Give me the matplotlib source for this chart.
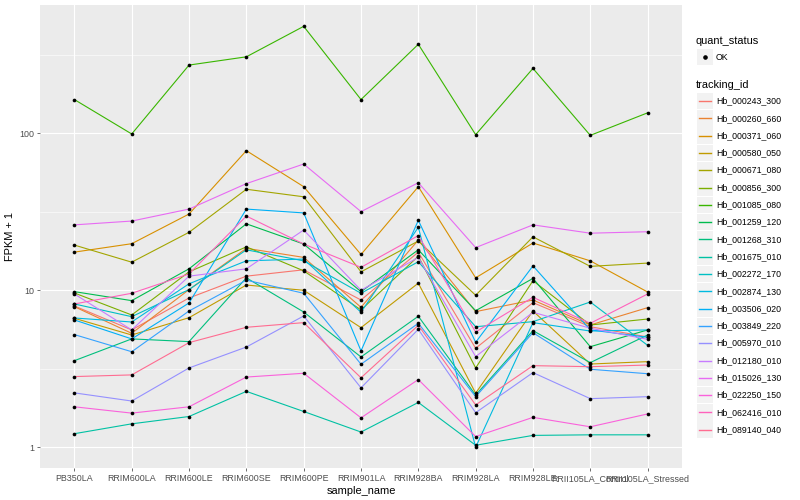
import numpy as np
import matplotlib.pyplot as plt
from matplotlib.patches import Rectangle
from matplotlib.lines import Line2D

plt.rcParams['font.family'] = ['Liberation Sans', 'DejaVu Sans']

# samples on the x axis
samples = ['PB350LA', 'RRIM600LA', 'RRIM600LE', 'RRIM600SE', 'RRIM600PE', 'RRIM901LA',
           'RRIM928BA', 'RRIM928LA', 'RRIM928LE', 'RRII105LA_Control', 'RRII105LA_Stressed']

tracking_ids = ['Hb_000243_300', 'Hb_000260_660', 'Hb_000371_060', 'Hb_000580_050',
                'Hb_000671_080', 'Hb_000856_300', 'Hb_001085_080', 'Hb_001259_120',
                'Hb_001268_310', 'Hb_001675_010', 'Hb_002272_170', 'Hb_002874_130',
                'Hb_003506_020', 'Hb_003849_220', 'Hb_005970_010', 'Hb_012180_010',
                'Hb_015026_130', 'Hb_022250_150', 'Hb_062416_010', 'Hb_089140_040']

# ggplot hue palette for 20 levels
colors = ['#F8766D', '#EA8331', '#D89000', '#C09B00', '#A3A500', '#7CAE00', '#39B600',
          '#00BB4E', '#00BF7D', '#00C1A3', '#00BFC4', '#00BAE0', '#00B0F6', '#35A2FF',
          '#9590FF', '#C77CFF', '#E76BF3', '#FA62DB', '#FF62BC', '#FF6C91']

# FPKM + 1 values, one list per gene
hb_000243_300 = [7.94, 5.59, 8.93, 12.3, 13.5, 8.67, 17.5, 4.27, 8.34, 5.86, 5.04]
hb_000260_660 = [7.86, 5.32, 10.1, 18.5, 16.2, 7.79, 20.9, 7.31, 8.67, 6.01, 7.75]
hb_000371_060 = [17.5, 19.8, 30.6, 77.5, 45.7, 16.9, 45.7, 12.0, 20.0, 15.4, 9.75]
hb_000580_050 = [6.63, 5.19, 6.69, 10.8, 10.0, 5.78, 11.1, 2.21, 7.38, 3.39, 3.51]
hb_000671_080 = [19.4, 15.1, 23.4, 44.0, 39.4, 13.1, 20.6, 9.29, 21.9, 14.2, 14.9]
hb_000856_300 = [9.61, 6.96, 13.1, 18.9, 13.3, 7.49, 16.5, 3.20, 11.5, 6.01, 6.56]
hb_001085_080 = [164, 99, 272, 307, 480, 164, 369, 98, 259, 97, 135]
hb_001259_120 = [9.80, 8.59, 13.7, 26.5, 19.7, 9.80, 18.1, 7.41, 11.9, 4.37, 5.59]
hb_001268_310 = [3.56, 4.90, 4.71, 12.0, 7.27, 3.76, 6.83, 2.15, 5.53, 3.46, 5.19]
hb_001675_010 = [1.22, 1.41, 1.57, 2.27, 1.69, 1.25, 1.93, 1.03, 1.19, 1.20, 1.20]
hb_002272_170 = [8.18, 6.79, 10.1, 18.1, 15.4, 9.57, 15.2, 5.86, 6.31, 8.42, 4.46]
hb_002874_130 = [6.66, 6.28, 11.0, 15.4, 15.8, 7.24, 25.2, 1.00, 6.22, 5.50, 5.59]
hb_003506_020 = [6.47, 4.90, 8.30, 32.9, 31.1, 4.11, 27.9, 4.66, 14.3, 5.59, 5.02]
hb_003849_220 = [5.22, 4.06, 7.38, 11.6, 9.57, 3.38, 6.16, 2.10, 5.37, 3.14, 2.94]
hb_005970_010 = [2.22, 1.97, 3.20, 4.35, 6.86, 2.39, 5.64, 1.66, 2.99, 2.04, 2.10]
hb_012180_010 = [9.47, 5.59, 12.3, 13.7, 24.2, 10.0, 16.2, 3.78, 7.24, 5.73, 4.87]
hb_015026_130 = [26.1, 27.6, 32.9, 47.8, 63.7, 31.7, 48.4, 18.7, 26.1, 23.1, 23.6]
hb_022250_150 = [1.81, 1.65, 1.81, 2.80, 2.96, 1.54, 2.70, 1.17, 1.55, 1.35, 1.63]
hb_062416_010 = [8.18, 9.57, 12.7, 29.7, 19.7, 14.0, 22.3, 5.42, 9.02, 6.16, 9.47]
hb_089140_040 = [2.82, 2.89, 4.64, 5.81, 6.22, 2.77, 5.98, 1.86, 3.31, 3.26, 3.34]

series = [hb_000243_300, hb_000260_660, hb_000371_060, hb_000580_050, hb_000671_080,
          hb_000856_300, hb_001085_080, hb_001259_120, hb_001268_310, hb_001675_010,
          hb_002272_170, hb_002874_130, hb_003506_020, hb_003849_220, hb_005970_010,
          hb_012180_010, hb_015026_130, hb_022250_150, hb_062416_010, hb_089140_040]

W, H = 800, 500
fig = plt.figure(figsize=(W / 100, H / 100), dpi=100)

def fx(x):
    return x / W

def fy(y):
    return 1 - y / H

# panel placement (pixels)
left, right, top, bottom = 40, 682, 5.3, 468.3
ax = fig.add_axes([fx(left), fy(bottom), (right - left) / W, (bottom - top) / H])
ax.set_facecolor('#EBEBEB')

x = np.arange(len(samples))
for vals, col in zip(series, colors):
    ax.plot(x, vals, color=col, lw=0.8, zorder=2)
for vals in series:
    ax.scatter(x, vals, s=7, color='black', marker='o', zorder=3, linewidths=0)

ax.set_yscale('log')
ax.set_yticks([1, 10, 100])
ax.set_yticklabels(['1', '10', '100'])
ax.set_yticks([10 ** 0.5, 10 ** 1.5, 10 ** 2.5], minor=True)
ax.yaxis.set_minor_formatter(plt.NullFormatter())
ax.set_xticks(x)
ax.set_xticklabels(samples)

# ggplot-like 5% expansion in log space, set after ticks
ax.set_xlim(-0.6, len(samples) - 0.4)
ymin = min(min(v) for v in series)
ymax = max(max(v) for v in series)
span = np.log10(ymax) - np.log10(ymin)
ax.set_ylim(10 ** (np.log10(ymin) - 0.05 * span), 10 ** (np.log10(ymax) + 0.05 * span))

ax.grid(which='major', color='white', lw=0.8, zorder=0)
ax.grid(which='minor', axis='y', color='white', lw=0.4, zorder=0)
ax.set_axisbelow(True)
for s in ax.spines.values():
    s.set_visible(False)
ax.tick_params(which='major', length=2.5, width=0.5, color='#333333',
               labelsize=6.4, labelcolor='#4D4D4D', pad=1.5)
ax.tick_params(which='minor', length=0)

ax.set_xlabel('sample_name', fontsize=7.9, labelpad=2)
ax.set_ylabel('FPKM + 1', fontsize=7.9, labelpad=3)

# legends drawn in figure pixels, ggplot style
fig.text(fx(696), fy(41), 'quant_status', fontsize=7.9, va='center', ha='left')
fig.add_artist(Rectangle((fx(697), fy(65)), 16 / W, 16 / H, transform=fig.transFigure,
                         facecolor='#F2F2F2', edgecolor='none'))
fig.add_artist(Line2D([fx(705)], [fy(57)], marker='o', ms=2.3, color='black',
                      transform=fig.transFigure))
fig.text(fx(716), fy(57), 'OK', fontsize=6.3, va='center', ha='left')

fig.text(fx(696), fy(85), 'tracking_id', fontsize=7.9, va='center', ha='left')
for i, (tid, col) in enumerate(zip(tracking_ids, colors)):
    yc = 101 + i * 17.3
    fig.add_artist(Rectangle((fx(697), fy(yc + 8.3)), 16 / W, 16.6 / H,
                             transform=fig.transFigure, facecolor='#F2F2F2', edgecolor='none'))
    fig.add_artist(Line2D([fx(699), fx(711)], [fy(yc), fy(yc)], color=col, lw=1.0,
                          transform=fig.transFigure))
    fig.text(fx(716), fy(yc), tid, fontsize=6.3, va='center', ha='left')

fig.savefig('out.png', dpi=100)
